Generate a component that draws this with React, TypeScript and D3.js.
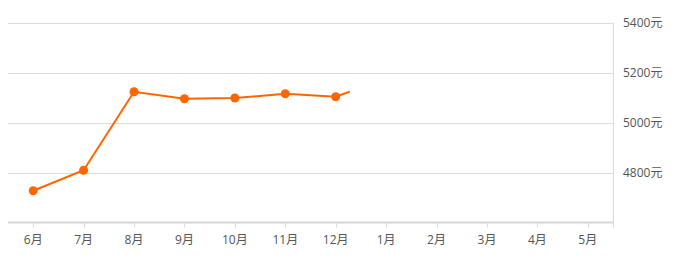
import React from "react";
import * as d3 from "d3";

const months = ["6月", "7月", "8月", "9月", "10月", "11月", "12月", "1月", "2月", "3月", "4月", "5月"];
const prices = [4727, 4809, 5123, 5095, 5098, 5115, 5103];
const trailingValue = 5176;
const trailingFraction = 0.28;
const yTicks = [4800, 5000, 5200, 5400];

const W = 693;
const H = 267;
const left = 8;
const right = 613;
const top = 22.5;
const bottom = 222.5;

export default function App() {
  const x = d3.scaleBand<string>().domain(months).range([left, right]).padding(0);
  const cx = (m: string) => (x(m) as number) + x.bandwidth() / 2;
  const y = d3.scaleLinear().domain([4600, 5400]).range([bottom, top]);

  const pts: [number, number][] = prices.map((v, i) => [cx(months[i]), y(v)]);
  const lastIdx = prices.length - 1;
  const nextPt: [number, number] = [cx(months[lastIdx + 1]), y(trailingValue)];
  const linePts = [...pts, nextPt];
  const line = d3.line<[number, number]>().x((d) => d[0]).y((d) => d[1]);
  const clipX = pts[lastIdx][0] + (nextPt[0] - pts[lastIdx][0]) * trailingFraction;

  const textColor = "#555";
  const font = "'Open Sans', 'Noto Sans CJK SC', sans-serif";

  return (
    <svg width={W} height={H} style={{ position: "absolute", left: 0, top: 0 }}>
      <defs>
        <clipPath id="lineClip">
          <rect x={0} y={0} width={clipX} height={H} />
        </clipPath>
      </defs>
      {yTicks.map((t) => (
        <g key={t}>
          <line x1={left} x2={right} y1={Math.round(y(t)) + 0.5} y2={Math.round(y(t)) + 0.5} stroke="#dcdcdc" strokeWidth={1} />
          <text x={623} y={y(t)} dy="0.35em" fontSize={12} fill={textColor} fontFamily={font}>
            {t}元
          </text>
        </g>
      ))}
      <line x1={right + 0.5} x2={right + 0.5} y1={top} y2={bottom} stroke="#dcdcdc" strokeWidth={1} />
      <line x1={left} x2={right + 1} y1={bottom} y2={bottom} stroke="#d6d6d6" strokeWidth={2} />
      {months.map((m) => (
        <g key={m}>
          <line x1={Math.round(cx(m)) + 0.5} x2={Math.round(cx(m)) + 0.5} y1={bottom} y2={bottom + 5} stroke="#dcdcdc" strokeWidth={1} />
          <text x={cx(m)} y={240} dy="0.35em" textAnchor="middle" fontSize={12} fill={textColor} fontFamily={font}>
            {m}
          </text>
        </g>
      ))}
      <line x1={right + 0.5} x2={right + 0.5} y1={bottom} y2={bottom + 5} stroke="#dcdcdc" strokeWidth={1} />
      <path d={line(linePts) || ""} fill="none" stroke="#ff6600" strokeWidth={2} clipPath="url(#lineClip)" />
      {pts.map((p, i) => (
        <circle key={i} cx={p[0]} cy={p[1]} r={4.5} fill="#ff6600" />
      ))}
    </svg>
  );
}
